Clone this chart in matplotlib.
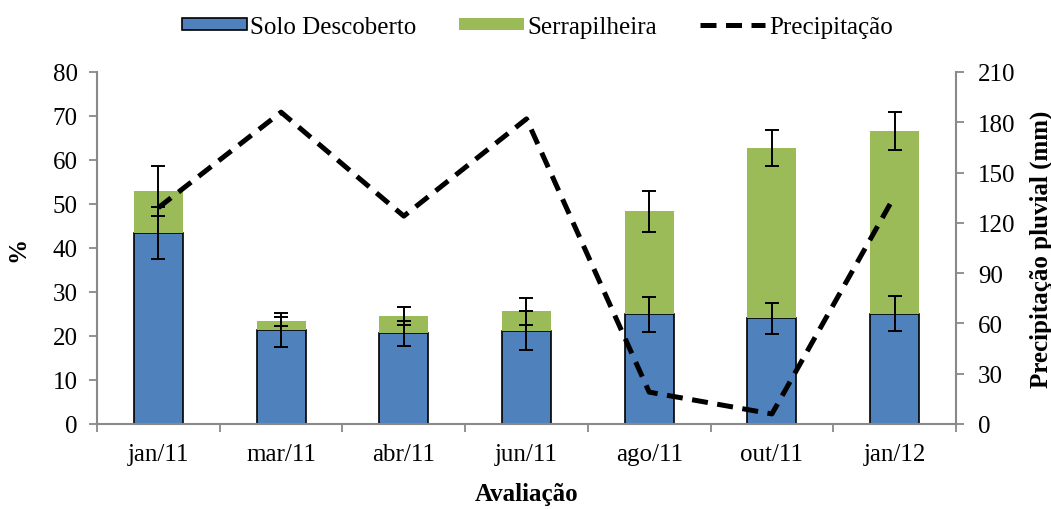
import matplotlib
matplotlib.use("Agg")
import matplotlib.pyplot as plt
import numpy as np

categories = ["jan/11", "mar/11", "abr/11", "jun/11", "ago/11", "out/11", "jan/12"]
solo = [43.4, 21.4, 20.6, 21.2, 24.9, 24.0, 25.1]
solo_err = [5.9, 3.8, 2.9, 4.5, 3.95, 3.5, 4.0]
serrapilheira = [9.5, 1.9, 3.9, 4.4, 23.4, 38.7, 41.4]
total_err = [5.7, 1.1, 2.0, 3.0, 4.7, 4.1, 4.3]
precip = [129, 186, 124, 182, 19, 6, 136]

plt.rcParams['font.family'] = ['Liberation Serif', 'DejaVu Serif']
FS = 18
gray = '#898989'

fig = plt.figure(figsize=(10.51, 5.10), dpi=100)
ax = fig.add_axes([0.0923, 0.1667, 0.8173, 0.6903])
ax2 = ax.twinx()

x = np.arange(len(categories))
total = [s + g for s, g in zip(solo, serrapilheira)]
w = 0.40
b1 = ax.bar(x, solo, w, color='#4F81BD', edgecolor='black', linewidth=1.2,
            label='Solo Descoberto', zorder=2)
b2 = ax.bar(x, serrapilheira, w, bottom=solo, color='#9BBB59', edgecolor='none',
            label='Serrapilheira', zorder=2)
ax.errorbar(x, solo, yerr=solo_err, fmt='none', ecolor='black', elinewidth=1.4,
            capsize=5, capthick=1.4, zorder=3)
ax.errorbar(x, total, yerr=total_err, fmt='none', ecolor='black', elinewidth=1.4,
            capsize=5, capthick=1.4, zorder=3)

ln, = ax2.plot(x, precip, color='black', linewidth=3.6, linestyle=(0, (3.2, 1.9)),
               label='Precipitação', zorder=4)

ax.set_xlim(-0.5, len(categories) - 0.5)
ax.set_ylim(0, 80)
ax2.set_ylim(0, 210)
ax.set_yticks(np.arange(0, 81, 10))
ax2.set_yticks(np.arange(0, 211, 30))

ax.set_xticks(x)
ax.set_xticklabels(categories, fontsize=FS)
ax.set_xticks(np.arange(-0.5, len(categories), 1.0), minor=True)
ax.tick_params(axis='x', which='major', length=0, pad=14)
ax.tick_params(axis='x', which='minor', length=6, color=gray, width=1.3, direction='out')
ax.tick_params(axis='y', which='major', labelsize=FS, length=6, color=gray, width=1.3,
               direction='out', pad=8)
ax2.tick_params(axis='y', which='major', labelsize=FS, length=6, color=gray, width=1.3,
                direction='out', pad=10)

for a in (ax, ax2):
    a.spines['top'].set_visible(False)
    for s in ['left', 'right', 'bottom']:
        a.spines[s].set_color(gray)
        a.spines[s].set_linewidth(1.5)
ax.spines['right'].set_visible(False)
ax2.spines['left'].set_visible(False)
ax2.spines['bottom'].set_visible(False)

ax.set_ylabel('%', fontsize=FS, fontweight='bold', labelpad=17)
ax2.set_ylabel('Precipitação pluvial (mm)', fontsize=FS, fontweight='bold', labelpad=10)
ax.set_xlabel('Avaliação', fontsize=FS, fontweight='bold', labelpad=12)

fig.legend([b1, b2, ln], ['Solo Descoberto', 'Serrapilheira', 'Precipitação'],
           loc='center', bbox_to_anchor=(0.511, 0.945), ncol=3, frameon=False,
           fontsize=FS, handlelength=2.6, handleheight=0.4, handletextpad=0.15,
           columnspacing=1.7)

fig.savefig('out.png', dpi=100)
